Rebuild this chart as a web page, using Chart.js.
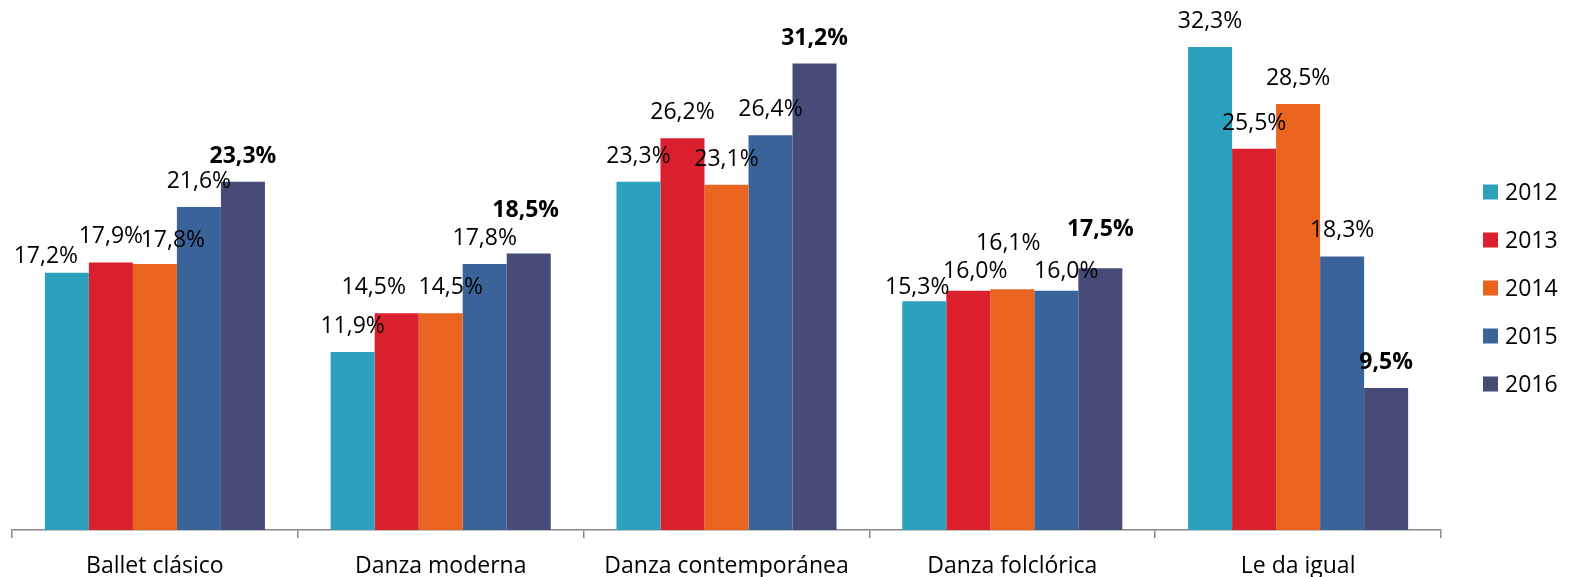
<!DOCTYPE html>
<html>
<head>
<meta charset="utf-8">
<script src="https://cdn.jsdelivr.net/npm/chart.js"></script>
<style>
  html, body { margin: 0; padding: 0; background: #fff; }
  #wrap { width: 1573px; height: 577px; position: relative; }
</style>
</head>
<body>
<div id="wrap"><canvas id="danceChart"></canvas></div>
<script>
// Categories and yearly shares (%)
const categories = ['Ballet clásico', 'Danza moderna', 'Danza contemporánea', 'Danza folclórica', 'Le da igual'];
const years = ['2012', '2013', '2014', '2015', '2016'];
const values2012 = [17.2, 11.9, 23.3, 15.3, 32.3];
const values2013 = [17.9, 14.5, 26.2, 16.0, 25.5];
const values2014 = [17.8, 14.5, 23.1, 16.1, 28.5];
const values2015 = [21.6, 17.8, 26.4, 16.0, 18.3];
const values2016 = [23.3, 18.5, 31.2, 17.5, 9.5];

const colors = ['#2ca1be', '#da202c', '#e9641e', '#3a639a', '#474b78'];
const FONT = '"Open Sans", "Noto Sans", sans-serif';

// a few labels were shifted by hand in the original to avoid overlaps: [dx, dy] in px
const labelNudge = {
    '0-0': [-21, 9], '0-2': [18, 2],
    '1-1': [-23, 0], '1-2': [10, 0], '1-4': [-3, -17],
    '3-0': [-7, 12], '3-1': [7, 6], '3-2': [-4, -20], '3-3': [10, 6], '3-4': [0, -13]
};

const fmt = v => v.toFixed(1).replace('.', ',') + '%';

const valueLabels = {
    id: 'valueLabels',
    afterDatasetsDraw(chart) {
        const ctx = chart.ctx;
        ctx.save();
        ctx.fillStyle = '#000';
        ctx.textAlign = 'center';
        ctx.textBaseline = 'alphabetic';
        chart.data.datasets.forEach((ds, di) => {
            ctx.font = (di === 4 ? 'bold ' : '') + '23px ' + FONT;
            chart.getDatasetMeta(di).data.forEach((bar, ci) => {
                const n = labelNudge[ci + '-' + di] || [0, 0];
                ctx.fillText(fmt(ds.data[ci]), bar.x + n[0], bar.y - 19 + n[1]);
            });
        });
        ctx.restore();
    }
};

// legend drawn by hand so the plot can keep its own right margin
const sideLegend = {
    id: 'sideLegend',
    afterDraw(chart) {
        const ctx = chart.ctx;
        ctx.save();
        ctx.font = '23px ' + FONT;
        ctx.textBaseline = 'alphabetic';
        ctx.textAlign = 'left';
        chart.data.datasets.forEach((ds, i) => {
            const cy = 192 + i * 48;
            ctx.fillStyle = ds.backgroundColor;
            ctx.fillRect(1483, cy - 7.5, 15, 15);
            ctx.fillStyle = '#000';
            ctx.fillText(ds.label, 1505, cy + 8);
        });
        ctx.restore();
    }
};

const seriesValues = [values2012, values2013, values2014, values2015, values2016];

new Chart(document.getElementById('danceChart'), {
    type: 'bar',
    data: {
        labels: categories,
        datasets: years.map((y, i) => ({
            label: y,
            data: seriesValues[i],
            backgroundColor: colors[i],
            borderWidth: 0,
            categoryPercentage: 0.77,
            barPercentage: 1.0
        }))
    },
    options: {
        responsive: true,
        maintainAspectRatio: false,
        animation: false,
        layout: { padding: { left: 12, right: 132, top: 0, bottom: -18 } },
        plugins: {
            legend: { display: false },
            tooltip: { enabled: false }
        },
        scales: {
            x: {
                border: { display: true, color: '#888', width: 1.5 },
                grid: {
                    display: true,
                    drawOnChartArea: false,
                    drawTicks: true,
                    tickLength: 8,
                    color: '#888',
                    lineWidth: 1.5
                },
                ticks: {
                    color: '#000',
                    padding: 17,
                    maxRotation: 0,
                    font: { family: FONT, size: 23, lineHeight: 1 }
                }
            },
            y: {
                display: false,
                min: 0,
                max: 35.45
            }
        }
    },
    plugins: [valueLabels, sideLegend]
});
</script>
</body>
</html>
